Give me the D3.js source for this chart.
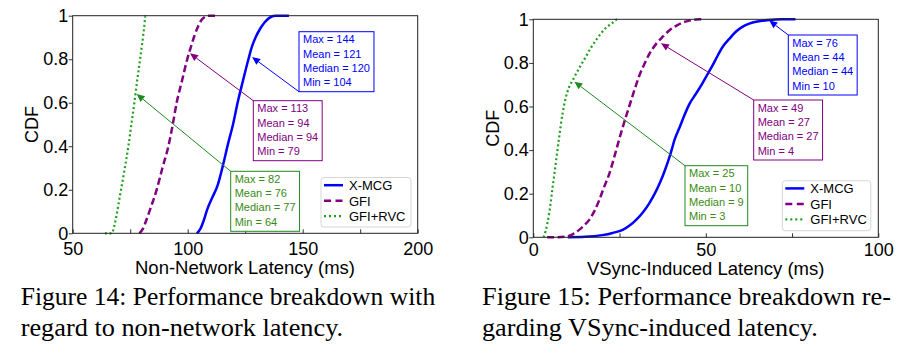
<!DOCTYPE html>
<html>
<head>
<meta charset="utf-8">
<script src="https://cdn.jsdelivr.net/npm/d3@7"></script>
<style>
  html, body { margin: 0; padding: 0; background: #fff; }
  svg { display: block; }
</style>
</head>
<body>
<svg id="fig" width="912" height="358"></svg>
<script>
// ---------------- DATA ----------------
const seriesNames = ["X-MCG", "GFI", "GFI+RVC"];

// Figure 14: non-network latency CDF (ms, cumulative fraction)
const left_xmcg_x   = [104,105.5,107,108.5,110.5,113,115.5,117.5,119.7,121.7,124,126.4,128,129.5,131.5,133.5,135.5,138,144];
const left_xmcg_cdf = [0,0.02,0.06,0.11,0.16,0.22,0.32,0.41,0.5,0.6,0.7,0.8,0.86,0.9,0.94,0.97,0.99,1,1];
const left_gfi_x    = [79,80.5,82,84,86.5,89,91.6,93.5,95.2,97.5,99.8,101.5,103,104.5,106,108,109,113];
const left_gfi_cdf  = [0,0.02,0.06,0.12,0.2,0.3,0.4,0.5,0.6,0.7,0.8,0.86,0.91,0.95,0.98,0.997,1,1];
const left_rvc_x    = [64,67,68,69,70,71,72.5,74.2,75.5,76.8,78,79.3,80.3,81,81.7,82];
const left_rvc_cdf  = [0,0,0.03,0.08,0.14,0.2,0.29,0.4,0.5,0.6,0.7,0.8,0.88,0.94,1,1];

// Figure 15: VSync-induced latency CDF
const right_xmcg_x   = [10,15,20,23,25.9,28,29.8,31.8,33.6,35.2,36.7,38.2,39.9,41,42.3,43.8,45.2,47,48.8,50.4,52,53.5,54.9,56.8,58.7,60.6,62.6,65,68.4,72,76];
const right_xmcg_cdf = [0,0.002,0.01,0.02,0.034,0.055,0.08,0.115,0.156,0.2,0.25,0.31,0.39,0.45,0.5,0.56,0.61,0.655,0.7,0.745,0.79,0.835,0.874,0.91,0.943,0.965,0.98,0.99,0.997,1,1];
const right_gfi_x    = [4,6,9.5,11.5,13.3,14.8,16.2,17.7,19.1,20.5,22,23.5,24.9,26.3,27.8,29.2,30.7,32.2,33.6,35.5,37.5,39.5,41.4,43.3,45.2,48.1,49];
const right_gfi_cdf  = [0,0,0.003,0.015,0.034,0.055,0.08,0.12,0.17,0.23,0.29,0.37,0.45,0.525,0.6,0.67,0.74,0.795,0.84,0.885,0.92,0.95,0.97,0.985,0.994,1,1];
const right_rvc_x    = [3,3.6,4.6,5.6,6.6,7.5,8.5,9.4,10.4,11.4,12.4,13.8,15.3,16.7,18.2,19.6,21,22.7,24.4,25];
const right_rvc_cdf  = [0,0.03,0.11,0.23,0.35,0.46,0.57,0.64,0.69,0.72,0.75,0.79,0.83,0.87,0.905,0.935,0.96,0.98,1,1];

// Summary statistics shown in the annotation boxes (order: X-MCG, GFI, GFI+RVC)
const left_max    = [144, 113, 82];
const left_mean   = [121, 94, 76];
const left_median = [120, 94, 77];
const left_min    = [104, 79, 64];
const right_max    = [76, 49, 25];
const right_mean   = [44, 27, 10];
const right_median = [44, 27, 9];
const right_min    = [10, 4, 3];

// Points on each curve the arrows point at (latency, cdf)
const left_arrow_x  = [128, 101, 77.8];
const left_arrow_y  = [0.81, 0.827, 0.64];
const right_arrow_x = [68.4, 37, 11.9];
const right_arrow_y = [0.994, 0.89, 0.714];

// Axis ticks
const left_x_ticks  = [50, 100, 150, 200];
const left_x_minor  = [75, 125, 175];
const right_x_ticks = [0, 50, 100];
const right_x_minor = [25, 75];
const y_ticks = [0, 0.2, 0.4, 0.6, 0.8, 1];
const y_tick_labels = ["0", "0.2", "0.4", "0.6", "0.8", "1"];

const left_xlabel  = "Non-Network Latency (ms)";
const right_xlabel = "VSync-Induced Latency (ms)";
const ylabel = "CDF";
const left_caption  = ["Figure 14: Performance breakdown with", "regard to non-network latency."];
const right_caption = ["Figure 15: Performance breakdown re-", "garding VSync-induced latency."];

// ---------------- STYLE / LAYOUT ----------------
const SANS = "'Liberation Sans', Arial, Helvetica, sans-serif";
const SERIF = "'Liberation Serif', 'Times New Roman', Times, serif";
const lineColors = ["#0000ff", "#800080", "#1ea01e"];
const annColors  = ["#0000ff", "#800080", "#1f8a1f"];
const annText    = ["#0000ff", "#800080", "#3a8a12"];
const dashes = [null, "7,3.5", "2,2.6"];
const widths = [2.5, 2.5, 2.2];

const layout = [
  {
    xr: [72.7, 417.7], yr: [233.3, 15.7], tickPad: 8.5,
    xlabelX: 245, xlabelY: 274, ylabelX: 37.5, ylabelY: 124.5,
    legend: {x: 321, y: 177.5, w: 90, h: 49.5},
    boxes: [{x: 299, y: 31.7, from: "bl"}, {x: 253.3, y: 100.7, from: "tl"}, {x: 230.7, y: 171.3, from: "tl"}],
    caption: {x: 20.7, y: [305, 336], w: [414.5, 322.5]}
  },
  {
    xr: [533.3, 878.3], yr: [237.3, 19.3], tickPad: 6,
    xlabelX: 705.7, xlabelY: 274.5, ylabelX: 498.7, ylabelY: 128.3,
    legend: {x: 782.3, y: 180.7, w: 88.5, h: 50},
    boxes: [{x: 788.3, y: 35, from: "tl"}, {x: 753.7, y: 100, from: "tl"}, {x: 685, y: 165.7, from: "tl"}],
    caption: {x: 482, y: [305, 336], w: [409, 335.7]}
  }
];

const charts = [
  {
    domain: [50, 200], xt: left_x_ticks, xm: left_x_minor, xlabel: left_xlabel,
    series: [[left_xmcg_x, left_xmcg_cdf], [left_gfi_x, left_gfi_cdf], [left_rvc_x, left_rvc_cdf]],
    stats: [left_max, left_mean, left_median, left_min],
    ax: left_arrow_x, ay: left_arrow_y, caption: left_caption
  },
  {
    domain: [0, 100], xt: right_x_ticks, xm: right_x_minor, xlabel: right_xlabel,
    series: [[right_xmcg_x, right_xmcg_cdf], [right_gfi_x, right_gfi_cdf], [right_rvc_x, right_rvc_cdf]],
    stats: [right_max, right_mean, right_median, right_min],
    ax: right_arrow_x, ay: right_arrow_y, caption: right_caption
  }
];

// ---------------- DRAW ----------------
const svg = d3.select("#fig");
svg.append("rect").attr("width", 912).attr("height", 358).attr("fill", "#fff");

charts.forEach((c, ci) => {
  const L = layout[ci];
  const x = d3.scaleLinear().domain(c.domain).range(L.xr);
  const y = d3.scaleLinear().domain([0, 1]).range(L.yr);
  const g = svg.append("g");

  // clip
  const clipId = "clip" + ci;
  svg.append("clipPath").attr("id", clipId).append("rect")
    .attr("x", L.xr[0]).attr("y", L.yr[1] - 2)
    .attr("width", L.xr[1] - L.xr[0]).attr("height", L.yr[0] - L.yr[1] + 4);

  // curves
  const line = d3.line().x(d => x(d[0])).y(d => y(d[1])).curve(d3.curveMonotoneX);
  c.series.forEach((s, si) => {
    const pts = s[0].map((v, i) => [v, s[1][i]]);
    g.append("path").datum(pts)
      .attr("clip-path", `url(#${clipId})`)
      .attr("d", line)
      .attr("fill", "none")
      .attr("stroke", lineColors[si])
      .attr("stroke-width", widths[si])
      .attr("stroke-dasharray", dashes[si])
      .attr("stroke-linejoin", "round");
  });

  // x axis (inward ticks)
  const xAxis = d3.axisBottom(x).tickValues(c.xt).tickFormat(d3.format("d"))
    .tickSizeInner(-4).tickSizeOuter(0).tickPadding(L.tickPad);
  const gx = g.append("g").attr("transform", `translate(0,${L.yr[0]})`).call(xAxis);
  gx.select(".domain").remove();
  gx.selectAll("line").attr("stroke", "#333");
  gx.selectAll("text").attr("font-family", SANS).attr("font-size", 18).attr("fill", "#000");
  const gxm = g.append("g").attr("transform", `translate(0,${L.yr[0]})`)
    .call(d3.axisBottom(x).tickValues(c.xm).tickFormat("").tickSizeInner(-4).tickSizeOuter(0));
  gxm.select(".domain").remove();
  gxm.selectAll("line").attr("stroke", "#333");

  // y axis (outward ticks)
  const yAxis = d3.axisLeft(y).tickValues(y_ticks).tickFormat((d, i) => y_tick_labels[i])
    .tickSizeInner(4).tickSizeOuter(0).tickPadding(0.5);
  const gy = g.append("g").attr("transform", `translate(${L.xr[0]},0)`).call(yAxis);
  gy.select(".domain").remove();
  gy.selectAll("line").attr("stroke", "#333");
  gy.selectAll("text").attr("font-family", SANS).attr("font-size", 18).attr("fill", "#000");

  // frame
  g.append("rect")
    .attr("x", L.xr[0]).attr("y", L.yr[1])
    .attr("width", L.xr[1] - L.xr[0]).attr("height", L.yr[0] - L.yr[1])
    .attr("fill", "none").attr("stroke", "#222").attr("stroke-width", 1);

  // labels
  g.append("text").attr("x", L.xlabelX).attr("y", L.xlabelY)
    .attr("text-anchor", "middle").attr("font-family", SANS).attr("font-size", 18.5)
    .text(c.xlabel);
  g.append("text").attr("transform", `translate(${L.ylabelX},${L.ylabelY}) rotate(-90)`)
    .attr("text-anchor", "middle").attr("font-family", SANS).attr("font-size", 18)
    .text(ylabel);

  // annotations
  const names = ["Max", "Mean", "Median", "Min"];
  c.series.forEach((s, si) => {
    const B = L.boxes[si];
    const bg = g.append("g").attr("transform", `translate(${B.x},${B.y})`);
    const rect = bg.append("rect").attr("fill", "#fff").attr("stroke", annColors[si]).attr("stroke-width", 1);
    let maxW = 0;
    names.forEach((n, k) => {
      const t = bg.append("text").attr("x", 4).attr("y", 11.6 + k * 14.3)
        .attr("font-family", SANS).attr("font-size", 11).attr("fill", annText[si])
        .text(`${n} = ${c.stats[k][si]}`);
      maxW = Math.max(maxW, t.node().getComputedTextLength());
    });
    const bw = maxW + 8, bh = 60;
    rect.attr("width", bw).attr("height", bh);

    // arrow
    const sx = B.x, sy = B.from === "bl" ? B.y + bh : B.y;
    const px = x(c.ax[si]), py = y(c.ay[si]);
    const dx = px - sx, dy = py - sy, len = Math.hypot(dx, dy);
    const ux = dx / len, uy = dy / len;
    const AL = 8, AW = 3.6;
    const bx = px - ux * AL, by = py - uy * AL;
    g.append("line").attr("x1", sx).attr("y1", sy).attr("x2", bx).attr("y2", by)
      .attr("stroke", annColors[si]).attr("stroke-width", 1);
    g.append("path")
      .attr("d", `M${px},${py}L${bx - uy * AW},${by + ux * AW}L${bx + uy * AW},${by - ux * AW}Z`)
      .attr("fill", annColors[si]);
  });

  // legend
  const LG = L.legend;
  const lg = g.append("g").attr("transform", `translate(${LG.x},${LG.y})`);
  lg.append("rect").attr("width", LG.w).attr("height", LG.h).attr("rx", 3)
    .attr("fill", "#fff").attr("fill-opacity", 0.85).attr("stroke", "#d6d6d6").attr("stroke-width", 1);
  seriesNames.forEach((n, si) => {
    const yy = 7.7 + si * 15.5;
    lg.append("line").attr("x1", 3).attr("x2", 22).attr("y1", yy).attr("y2", yy)
      .attr("stroke", lineColors[si]).attr("stroke-width", widths[si])
      .attr("stroke-dasharray", si === 1 ? "7,4.5" : (si === 2 ? "2,3" : null));
    lg.append("text").attr("x", 28).attr("y", yy + 4.8)
      .attr("font-family", SANS).attr("font-size", 13).attr("fill", "#000").text(n);
  });

  // caption
  c.caption.forEach((t, k) => {
    svg.append("text").attr("x", L.caption.x).attr("y", L.caption.y[k])
      .attr("font-family", SERIF).attr("font-size", 24.5).attr("fill", "#000")
      .attr("textLength", L.caption.w[k]).attr("lengthAdjust", "spacingAndGlyphs")
      .text(t);
  });
});
</script>
</body>
</html>
